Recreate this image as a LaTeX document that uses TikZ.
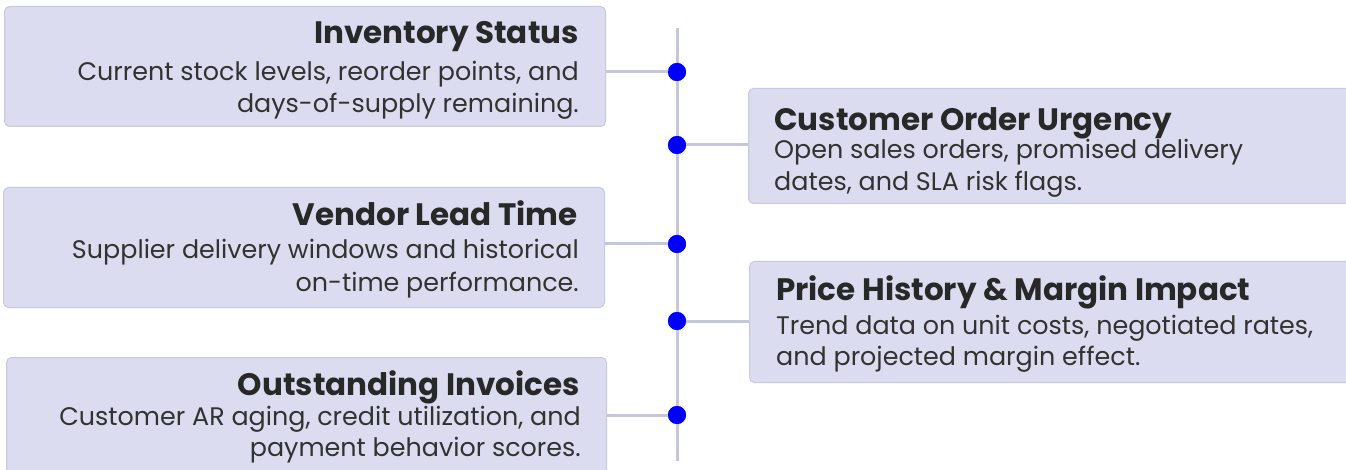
\documentclass[tikz,border=0pt]{standalone}
\usepackage{fontspec}
\setmainfont{Poppins}
\definecolor{boxfill}{RGB}{220,220,240}
\definecolor{boxdraw}{RGB}{200,200,226}
\definecolor{axisline}{RGB}{197,197,221}
\definecolor{dotblue}{RGB}{0,0,255}
\definecolor{txt}{RGB}{40,40,40}
\definecolor{bodytxt}{RGB}{50,50,50}
\begin{document}
\begin{tikzpicture}[x=1pt,y=1pt,
  cardbox/.style={draw=boxdraw, line width=1pt, fill=boxfill, rounded corners=5pt, anchor=north west, inner sep=0pt},
  ttl/.style={inner sep=0pt, text=txt, font=\fontsize{31}{33}\selectfont\bfseries},
  bdy/.style={inner sep=0pt, text=bodytxt, font=\fontsize{25.4}{27}\selectfont},
  link/.style={draw=axisline, line width=3pt},
  dotnode/.style={circle, fill=dotblue, inner sep=0pt, minimum size=18pt}]
\useasboundingbox (0,0) rectangle (1346,-470);
\clip (0,0) rectangle (1346,-470);
% axis
\coordinate (axtop) at (677,-28);
\coordinate (axbot) at (677,-461);
\draw[link] (axtop) -- (axbot);
% boxes
\node[cardbox, minimum width=601pt, minimum height=120pt] (b1) at (4,-6) {};
\node[cardbox, minimum width=610pt, minimum height=115pt] (b2) at (748,-88) {};
\node[cardbox, minimum width=601pt, minimum height=120pt] (b3) at (3,-187) {};
\node[cardbox, minimum width=610pt, minimum height=121pt] (b4) at (749,-261) {};
\node[cardbox, minimum width=600pt, minimum height=125pt] (b5) at (6,-357) {};
% dots
\node[dotnode] (d1) at (677,-72) {};
\node[dotnode] (d2) at (677,-145) {};
\node[dotnode] (d3) at (677,-244) {};
\node[dotnode] (d4) at (677,-321) {};
\node[dotnode] (d5) at (677,-415) {};
% connectors
\draw[link] (b1.east |- d1) -- (d1.center);
\draw[link] (d2.center) -- (b2.west |- d2);
\draw[link] (b3.east |- d3) -- (d3.center);
\draw[link] (d4.center) -- (b4.west |- d4);
\draw[link] (b5.east |- d5) -- (d5.center);
\foreach \d in {d1,d2,d3,d4,d5} \node[dotnode] at (\d) {};
% texts box 1
\node[ttl, anchor=base east] (t1) at (579,-44) {Inventory Status};
\node[bdy, anchor=base east] (t1a) at (579,-81) {Current stock levels, reorder points, and};
\node[bdy, anchor=base east] (t1b) at (579,-113) {days-of-supply remaining.};
% box 2
\node[ttl, anchor=base west] (t2) at (774,-131) {Customer Order Urgency};
\node[bdy, anchor=base west] (t2a) at (774,-159) {Open sales orders, promised delivery};
\node[bdy, anchor=base west] (t2b) at (774,-191) {dates, and SLA risk flags.};
% box 3
\node[ttl, anchor=base east] (t3) at (578,-226) {Vendor Lead Time};
\node[bdy, anchor=base east] (t3a) at (579,-259) {Supplier delivery windows and historical};
\node[bdy, anchor=base east] (t3b) at (579,-291) {on-time performance.};
% box 4
\node[ttl, anchor=base west] (t4) at (776,-300) {Price History \& Margin Impact};
\node[bdy, anchor=base west] (t4a) at (776,-334) {Trend data on unit costs, negotiated rates,};
\node[bdy, anchor=base west] (t4b) at (776,-365) {and projected margin effect.};
% box 5
\node[ttl, anchor=base east] (t5) at (580,-395) {Outstanding Invoices};
\node[bdy, anchor=base east] (t5a) at (581,-425) {Customer AR aging, credit utilization, and};
\node[bdy, anchor=base east] (t5b) at (581,-456) {payment behavior scores.};
\end{tikzpicture}
\end{document}
